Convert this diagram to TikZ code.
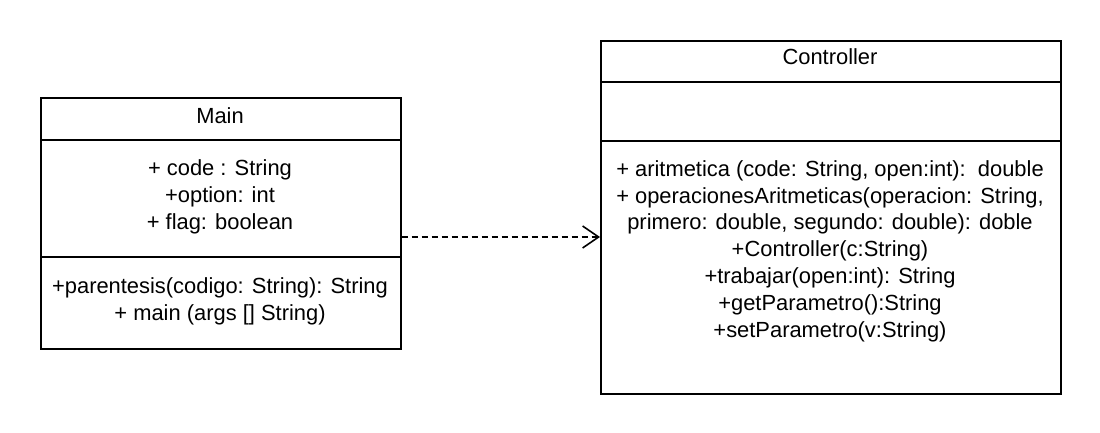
\documentclass[tikz,border=0pt]{standalone}
\usepackage{fontspec}
\setmainfont{Liberation Sans}
\usetikzlibrary{arrows.meta}
\begin{document}
\begin{tikzpicture}[x=1pt,y=-1pt,
  classbox/.style={draw=black,line width=1.6pt,anchor=north west,inner sep=0pt},
  sep/.style={draw=black,line width=1.6pt},
  txt/.style={font=\fontsize{21.9}{26.8}\selectfont,align=center,anchor=base,inner sep=0pt},
  dep/.style={draw=black,line width=1.6pt,dash pattern=on 6pt off 4pt,-{Straight Barb[length=16pt,width=22pt,line width=1.6pt]}}]
\useasboundingbox (0,0) rectangle (1100,433);
\fill[white] (0,0) rectangle (1100,433);
% Main class
\node[classbox,minimum width=360pt,minimum height=251pt] (main) at (40,97) {};
\draw[sep] (40,140) -- (400,140);
\draw[sep] (40,257) -- (400,257);
\node[txt] (maintitle) at (220,124) {Main};
\node[txt] (mainattr) at (220,229) {+ code : String\\+option: int\\+ flag: boolean};
\node[txt] (mainops) at (220,320) {+parentesis(codigo: String): String\\+ main (args [] String)};
% Controller class
\node[classbox,minimum width=460pt,minimum height=353pt] (ctrl) at (600,40) {};
\draw[sep] (600,82) -- (1060,82);
\draw[sep] (600,141) -- (1060,141);
\node[txt] (ctrltitle) at (830,65) {Controller};
\node[txt] (ctrlops) at (830,337) {+ aritmetica (code: String, open:int):\ \ double\\+ operacionesAritmeticas(operacion: String,\\primero: double, segundo: double): doble\\+Controller(c:String)\\+trabajar(open:int): String\\+getParametro():String\\+setParametro(v:String)};
% dependency
\coordinate (ay) at (0,237);
\draw[dep] (main.east |- ay) -- (ctrl.west |- ay);
\end{tikzpicture}
\end{document}
